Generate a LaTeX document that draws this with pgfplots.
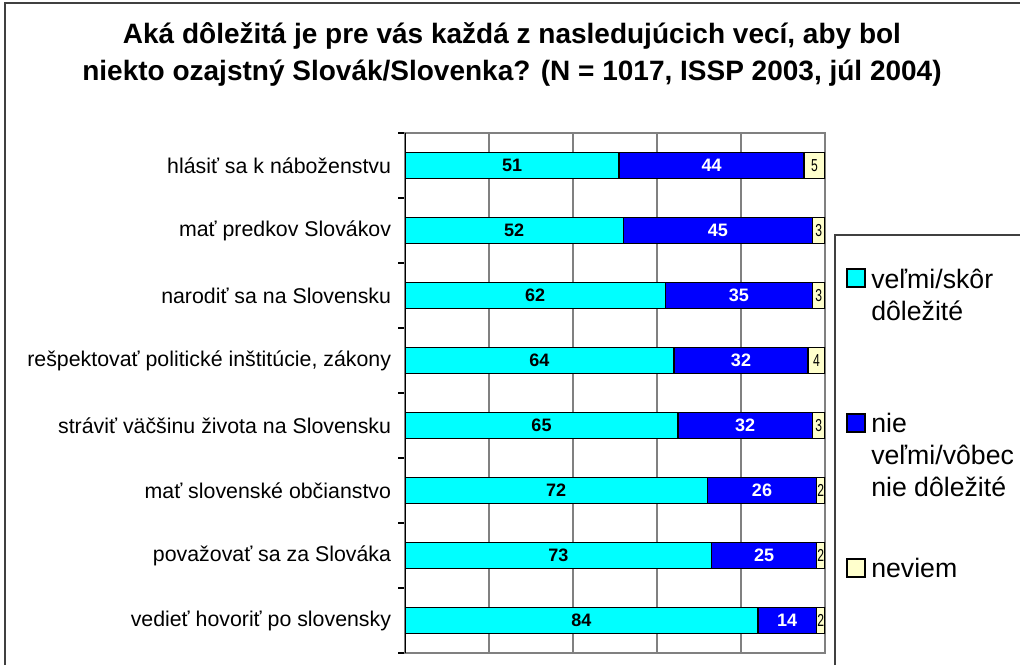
\documentclass[border=0pt]{standalone}
\usepackage{pgfplots}
\pgfplotsset{compat=1.18}
\usepackage{fontspec}
\setmainfont{Liberation Sans}
\definecolor{cyanbar}{RGB}{0,255,255}
\definecolor{bluebar}{RGB}{0,0,255}
\definecolor{creambar}{RGB}{255,255,204}
\definecolor{gridgray}{RGB}{128,128,128}
\pgfplotstableread{
x y
51 0
52 1
62 2
64 3
65 4
72 5
73 6
84 7
}\seriesA
\pgfplotstableread{
x y
44 0
45 1
35 2
32 3
32 4
26 5
25 6
14 7
}\seriesB
\pgfplotstableread{
x y
5 0
3 1
3 2
4 3
3 4
2 5
2 6
2 7
}\seriesC
\begin{document}
\begin{tikzpicture}[x=0.75pt,y=-0.75pt]
\path[use as bounding box] (0,0) rectangle (1020,665);
\draw[line width=1.1pt, black!75] (5,665) -- (5,3) -- (1020,3);
\node[font=\bfseries\fontsize{21}{27.75}\selectfont, align=center] at (512,54) {Aká dôležitá je pre vás každá z nasledujúcich vecí, aby bol\\niekto ozajstný Slovák/Slovenka? (N = 1017, ISSP 2003, júl 2004)};
\begin{axis}[
  at={(303.75pt,-489.75pt)}, anchor=south west,
  scale only axis, width=315pt, height=390pt,
  xbar stacked, bar width=19.5pt,
  xmin=0, xmax=100, ymin=-0.5, ymax=7.5, y dir=reverse,
  xtick={0,20,...,100}, xticklabels={}, xmajorgrids,
  grid style={gridgray, line width=1.1pt},
  major x tick style={draw=none},
  ytick={0,...,7},
  yticklabels={hlásiť sa k náboženstvu, mať predkov Slovákov, narodiť sa na Slovensku, {rešpektovať politické inštitúcie, zákony}, stráviť väčšinu života na Slovensku, mať slovenské občianstvo, považovať sa za Slováka, vedieť hovoriť po slovensky},
  major y tick style={draw=none},
  minor ytick={-0.5,0.5,...,7.5},
  minor y tick style={black, line width=0.8pt},
  minor tick length=5.25pt, tick align=outside, ytick pos=left,
  y tick label style={font=\fontsize{16}{19}\selectfont, inner sep=0pt, xshift=-6pt},
  axis line style={gridgray, line width=1.1pt},
  every axis plot/.append style={draw=black, line width=1.1pt},
  nodes near coords={\pgfmathprintnumber[assume math mode=true]{\pgfplotspointmeta}},
  every node near coord/.append style={anchor=center, inner sep=0pt},
]
\addplot[fill=cyanbar, every node near coord/.append style={font=\bfseries\fontsize{13.5}{16}\selectfont, text=black}] table[x=x,y=y] {\seriesA};
\addplot[fill=bluebar, every node near coord/.append style={font=\bfseries\fontsize{13.5}{16}\selectfont, text=white}] table[x=x,y=y] {\seriesB};
\addplot[fill=creambar, every node near coord/.append style={font=\fontsize{13}{15}\selectfont, text=black, xscale=0.7}] table[x=x,y=y] {\seriesC};
\draw[black, line width=1.1pt] (rel axis cs:0,0) -- (rel axis cs:0,1);
\end{axis}
\draw[line width=1.1pt, black!75] (835,665) -- (835,235) -- (1020,235);
\filldraw[fill=cyanbar, draw=black, line width=1.1pt] (847,269) rectangle (865,287);
\filldraw[fill=bluebar, draw=black, line width=1.1pt] (847,414) rectangle (865,432);
\filldraw[fill=creambar, draw=black, line width=1.1pt] (847,559) rectangle (865,577);
\begin{scope}[every node/.style={anchor=base west, inner sep=0pt, font=\fontsize{20}{24}\selectfont}]
\node at (871,288) {veľmi/skôr};
\node at (871,320) {dôležité};
\node at (871,432) {nie};
\node at (871,464) {veľmi/vôbec};
\node at (871,496) {nie dôležité};
\node at (871,577) {neviem};
\end{scope}
\end{tikzpicture}
\end{document}
